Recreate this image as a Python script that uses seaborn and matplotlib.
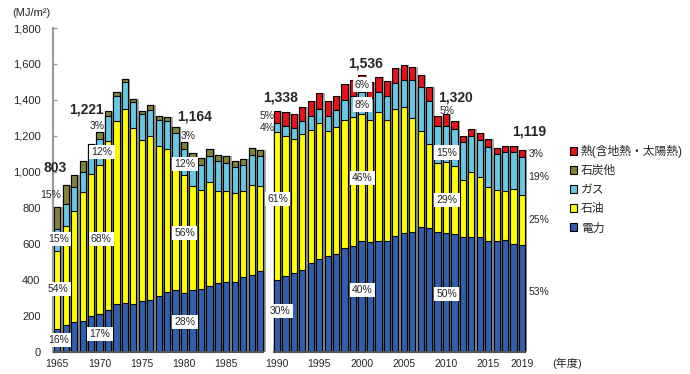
import numpy as np
import pandas as pd
import matplotlib.pyplot as plt
import seaborn as sns
from matplotlib.patches import Patch

# -----------------------------
# Data (MJ/m2 by energy source)
# -----------------------------
years = list(range(1965, 1990)) + list(range(1990, 2020))

elec = [128, 149, 167, 173, 199, 208, 232, 264, 273, 264, 282, 290, 310, 331, 344,
        328, 342, 348, 366, 381, 390, 390, 416, 427, 446,
        401, 422, 440, 455, 496, 515, 533, 544, 576, 585, 614, 611, 617, 613, 645,
        660, 665, 693, 689, 666, 660, 656, 637, 637, 637, 613, 616, 620, 599, 593]
oil = [434, 550, 617, 714, 788, 829, 938, 1017, 1077, 978, 894, 908, 832, 798, 698,
       654, 577, 553, 576, 510, 501, 492, 475, 502, 473,
       820, 780, 743, 758, 739, 754, 693, 704, 715, 720, 707, 679, 715, 678, 702,
       701, 635, 533, 468, 384, 396, 375, 320, 360, 334, 303, 281, 275, 306, 280]
gas = [120, 120, 130, 110, 125, 147, 139, 143, 149, 145, 143, 148, 149, 152, 175,
       147, 151, 139, 148, 167, 161, 144, 146, 166, 169,
       50, 55, 62, 68, 78, 81, 83, 95, 107, 115, 123, 120, 111, 130, 148,
       149, 210, 247, 236, 207, 198, 208, 208, 205, 206, 223, 203, 216, 204, 212]
coal = [121, 110, 70, 65, 45, 37, 28, 20, 15, 18, 18, 28, 22, 25, 31,
        35, 35, 37, 39, 38, 38, 36, 35, 38, 36] + [0] * 30
heat = [0] * 25 + [67, 75, 74, 80, 80, 86, 84, 78, 93, 90, 92, 90, 86, 83, 80,
                   83, 74, 68, 78, 52, 66, 46, 37, 35, 38, 41, 33, 35, 35, 34]

tick_years = [1965, 1970, 1975, 1980, 1985, 1990, 1995, 2000, 2005, 2010, 2015, 2019]
legend_labels = ["熱(含地熱・太陽熱)", "石炭他", "ガス", "石油", "電力"]

colors = {"elec": "#2F5FAE", "oil": "#FFFF00", "gas": "#66C8E4",
          "coal": "#828238", "heat": "#E5141B"}

# -----------------------------
# Build table
# -----------------------------
df = pd.DataFrame({"year": years, "elec": elec, "oil": oil, "gas": gas,
                   "coal": coal, "heat": heat})
# leave one empty slot between 1989 and 1990
df["pos"] = df["year"] - 1965 + (df["year"] >= 1990).astype(int)
df["c_elec"] = df["elec"]
df["c_oil"] = df["c_elec"] + df["oil"]
df["c_gas"] = df["c_oil"] + df["gas"]
df["c_coal"] = df["c_gas"] + df["coal"]
df["c_heat"] = df["c_coal"] + df["heat"]

# -----------------------------
# Plot
# -----------------------------
sns.set_theme(style="white")
plt.rcParams['font.family'] = ['Liberation Sans', 'Noto Sans CJK JP', 'DejaVu Sans']

fig = plt.figure(figsize=(6.9, 3.74), dpi=100)
ax = fig.add_axes([53 / 690, 22.3 / 374, (530 - 53) / 690, 323.7 / 374])

# gray shadow behind each bar
sns.barplot(x=df["pos"] + 0.27, y=df["c_heat"], native_scale=True, width=0.74,
            color="#A8A8A8", saturation=1, linewidth=0, ax=ax, zorder=1)

for key in ["heat", "coal", "gas", "oil", "elec"]:
    sns.barplot(x=df["pos"], y=df["c_" + key], native_scale=True, width=0.74,
                color=colors[key], saturation=1, edgecolor="black", linewidth=0.8,
                ax=ax, zorder=2)

ax.set_xlim(-0.51, 55.94)
ax.set_ylim(0, 1800)
ax.set_xlabel("")
ax.set_ylabel("")

for s in ["top", "right", "bottom"]:
    ax.spines[s].set_visible(False)
ax.spines["left"].set_color("#9A9A9A")
ax.spines["left"].set_linewidth(1.5)

ax.set_yticks(range(0, 1801, 200))
ax.set_yticklabels([f"{v:,}" for v in range(0, 1801, 200)])
ax.tick_params(axis="y", direction="in", length=3, width=1, color="#9A9A9A",
               pad=9, labelsize=8, left=True)

tick_pos = [y - 1965 + (1 if y >= 1990 else 0) for y in tick_years]
ax.set_xticks(tick_pos)
ax.set_xticklabels([str(y) for y in tick_years])
ax.tick_params(axis="x", length=0, pad=5, labelsize=7.5)

# broken baseline
ax.hlines(0, -0.5, 24.5, color="#555555", linewidth=1.5, zorder=3, clip_on=False)
ax.hlines(0, 25.5, 55.5, color="#555555", linewidth=1.5, zorder=3, clip_on=False)

# -----------------------------
# Annotations
# -----------------------------
totals = [("803", -0.3, 1022), ("1,221", 3.4, 1346), ("1,164", 16.2, 1307),
          ("1,338", 26.4, 1413), ("1,536", 36.5, 1603), ("1,320", 47.1, 1412),
          ("1,119", 55.9, 1224)]
for t, x, y in totals:
    ax.text(x, y, t, ha="center", va="center", fontsize=10, fontweight="bold",
            clip_on=False, zorder=6)

box = dict(facecolor="white", edgecolor="none", pad=1.6)
pct_boxed = [("15%", 0.1, 627), ("54%", 0.1, 349), ("16%", 0.1, 65),
             ("12%", 5.3, 1112), ("68%", 5.2, 627), ("17%", 5.05, 99),
             ("12%", 15.1, 1045), ("56%", 15.1, 660), ("28%", 15.1, 166),
             ("61%", 26.1, 850), ("30%", 26.4, 226),
             ("6%", 36.1, 1485), ("8%", 36.1, 1374), ("46%", 36.1, 967), ("40%", 36.1, 344),
             ("15%", 46.1, 1107), ("29%", 46.1, 845), ("50%", 46.1, 322)]
for t, x, y in pct_boxed:
    ax.text(x, y, t, ha="center", va="center", fontsize=7.5, bbox=box, zorder=5)

pct_plain = [("15%", -0.75, 872, "center"), ("3%", 4.7, 1257, "center"),
             ("3%", 15.5, 1200, "center"), ("5%", 25.75, 1313, "right"),
             ("4%", 25.75, 1246, "right"), ("5%", 46.1, 1336, "center"),
             ("3%", 55.75, 1100, "left"), ("19%", 55.75, 973, "left"),
             ("25%", 55.75, 733, "left"), ("53%", 55.75, 333, "left")]
for t, x, y, ha in pct_plain:
    ax.text(x, y, t, ha=ha, va="center", fontsize=7.5, clip_on=False, zorder=5)

fig.text(12 / 690, 1 - 13 / 374, "(MJ/m²)", ha="left", va="center", fontsize=8)
fig.text(567 / 690, 1 - 363 / 374, "(年度)", ha="center", va="center", fontsize=8)

# -----------------------------
# Legend
# -----------------------------
handles = [Patch(facecolor=colors[k], edgecolor="black", linewidth=0.8)
           for k in ["heat", "coal", "gas", "oil", "elec"]]
fig.legend(handles, legend_labels, loc="upper left",
           bbox_to_anchor=(570 / 690, 1 - 145 / 374), frameon=False,
           fontsize=8.5, handlelength=0.6, handleheight=0.6, handletextpad=0.3,
           labelspacing=0.6, borderaxespad=0, borderpad=0)

fig.savefig("out.png", dpi=100)
